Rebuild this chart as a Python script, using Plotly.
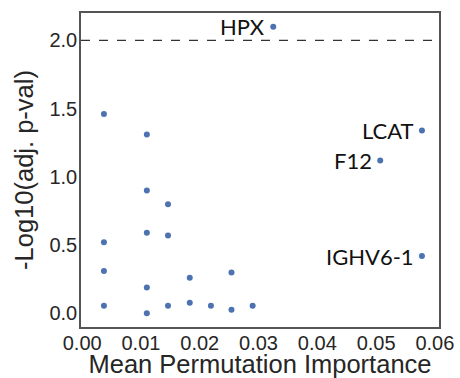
import plotly.graph_objects as go

# Data
importance = [0.0037, 0.0037, 0.0037, 0.0037,
              0.0110, 0.0110, 0.0110, 0.0110, 0.0110,
              0.0146, 0.0146, 0.0146,
              0.0183, 0.0183,
              0.0219,
              0.0254, 0.0254,
              0.0290,
              0.0325, 0.0578, 0.0507, 0.0578]
neglog_p = [1.46, 0.52, 0.31, 0.055,
            1.31, 0.90, 0.59, 0.19, 0.0,
            0.80, 0.57, 0.055,
            0.26, 0.077,
            0.055,
            0.30, 0.026,
            0.055,
            2.10, 1.34, 1.12, 0.42]
labels = [""] * 18 + ["HPX", "LCAT", "F12", "IGHV6-1"]
threshold = 2.0
x_ticks = [0.00, 0.01, 0.02, 0.03, 0.04, 0.05, 0.06]
y_ticks = [0.0, 0.5, 1.0, 1.5, 2.0]

fig = go.Figure()
fig.add_trace(go.Scatter(
    x=importance, y=neglog_p, mode="markers",
    marker=dict(color="#4C72B0", size=6),
    showlegend=False, hoverinfo="skip", cliponaxis=False,
))

for xv, yv, lab in zip(importance, neglog_p, labels):
    if lab:
        fig.add_annotation(
            x=xv, y=yv, text=lab, showarrow=False,
            xanchor="right", yanchor="middle", xshift=-6,
            font=dict(family="Lato, Open Sans, sans-serif", size=22, color="#111111"),
        )

fig.add_shape(type="line", xref="paper", x0=0, x1=1, yref="y", y0=threshold, y1=threshold,
              line=dict(color="#333333", width=1.2, dash="dash"))

axis_font = dict(family="Liberation Sans, Arial, sans-serif", size=20, color="#262626")
title_font = dict(family="Liberation Sans, Arial, sans-serif", size=25.5, color="#262626")

fig.update_xaxes(
    range=[-0.0002, 0.0607], tickvals=x_ticks, tickformat=".2f",
    showgrid=False, zeroline=False, ticks="", ticklen=0, automargin=False,
    ticklabelstandoff=-3,
    showline=True, linecolor="#555555", linewidth=1.5, mirror=True,
    tickfont=axis_font, title=dict(text="Mean Permutation Importance", font=title_font, standoff=12),
)
fig.update_yaxes(
    range=[-0.1, 2.2], tickvals=y_ticks, tickformat=".1f",
    showgrid=False, zeroline=False, ticks="", ticklen=0, automargin=False,
    ticklabelstandoff=-2,
    showline=True, linecolor="#555555", linewidth=1.5, mirror=True,
    tickfont=axis_font, title=dict(text="-Log10(adj. p-val)", font=title_font, standoff=9),
)

fig.update_layout(
    width=460, height=378,
    margin=dict(l=81, r=21, t=13, b=51),
    plot_bgcolor="white", paper_bgcolor="white",
)

fig.write_html(
    "out.html",
    config={"displayModeBar": False},
    post_script="document.body.style.margin='0';document.body.style.overflow='hidden';",
)
